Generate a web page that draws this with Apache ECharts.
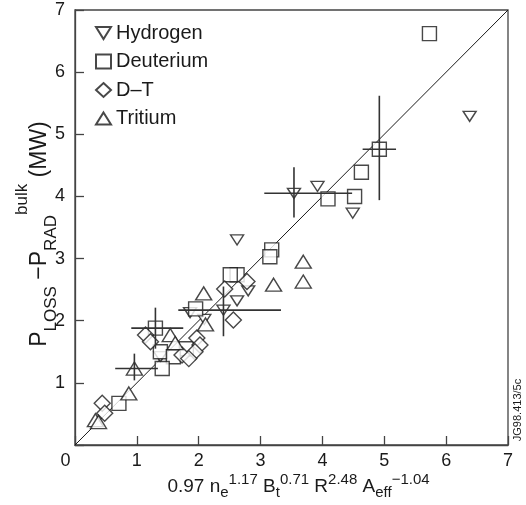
<!DOCTYPE html>
<html><head><meta charset="utf-8">
<script src="https://cdn.jsdelivr.net/npm/echarts@6/dist/echarts.min.js"></script>
<style>html,body{margin:0;padding:0;background:#fff}#c{width:526px;height:505px}</style>
</head><body><div id="c"></div>
<script>
const hydrogen = [[6.38,5.29],[3.92,4.16],[3.54,4.05],[4.49,3.73],[2.62,3.30],[2.80,2.48],[2.62,2.32],[2.40,2.17],[1.86,2.13],[2.09,2.02],[1.38,1.42]];
const deuterium = [[5.73,6.62],[4.92,4.76],[4.63,4.39],[4.52,4.00],[4.09,3.96],[3.18,3.14],[3.15,3.03],[2.62,2.74],[2.51,2.74],[1.95,2.19],[1.30,1.88],[1.80,1.55],[1.38,1.50],[1.59,1.42],[1.41,1.23],[0.71,0.67]];
const dt = [[2.78,2.63],[2.42,2.51],[2.56,2.01],[1.14,1.77],[1.22,1.66],[1.97,1.72],[2.02,1.61],[1.94,1.50],[1.73,1.45],[1.84,1.39],[0.44,0.67],[0.48,0.51]];
const tritium = [[3.69,2.95],[3.69,2.63],[3.21,2.58],[2.08,2.44],[2.11,1.94],[1.54,1.77],[1.62,1.64],[0.96,1.23],[0.87,0.83],[0.33,0.40],[0.38,0.37]];
// [x, y, xLow, xHigh, yLow, yHigh]
const errorBars = [[3.54,4.05,3.06,4.48,3.66,4.47],[2.40,2.17,1.67,3.33,1.75,2.55],[1.30,1.88,0.91,1.75,1.55,2.21],[0.96,1.23,0.65,1.34,1.04,1.47],[4.92,4.76,4.65,5.19,3.94,5.62]];
const unityLine = [[0,0],[7,7]];
const seriesNames = ['Hydrogen','Deuterium','D\u2013T','Tritium'];
const axisMin = 0, axisMax = 7, axisStep = 1;
const note = 'JG98.413/5c';

const FONT = 'Liberation Sans, Arial, Helvetica, sans-serif';
const INK = '#1a1a1a';
const markerStyle = {color:'#fff', borderColor:INK, borderWidth:1.4};
const chart = echarts.init(document.getElementById('c'), null, {renderer:'canvas'});
const down = 'path://M0,0 L20,0 L10,16 Z';
const up = 'path://M10,0 L20,16 L0,16 Z';

chart.setOption({
  animation:false,
  backgroundColor:'#fff',
  textStyle:{fontFamily:FONT, color:INK},
  grid:{left:75, right:18, top:10, bottom:60, show:true, borderColor:'#444', borderWidth:1.3,
    backgroundColor:'transparent', containLabel:false, outerBoundsMode:'none'},
  legend:{
    data:seriesNames, orient:'vertical', left:90, top:18, itemWidth:15, itemHeight:14, itemGap:8.5,
    textStyle:{fontSize:20, color:INK, fontFamily:FONT}, selectedMode:false
  },
  xAxis:{
    type:'value', min:axisMin, max:axisMax, interval:axisStep,
    axisLine:{show:true, lineStyle:{color:'#444', width:1.3}},
    axisTick:{show:true, inside:true, length:9, lineStyle:{color:'#444', width:1.3}},
    splitLine:{show:false},
    axisLabel:{fontSize:18, color:INK, margin:7, fontFamily:FONT,
      formatter:v => v===0 ? '{z|0}' : String(v),
      rich:{z:{fontSize:18, padding:[0,19,0,0], fontFamily:FONT, color:INK}}},
    name:'{m|0.97 n}{sb|e}{sp|1.17}{m| B}{sb|t}{sp|0.71}{m| R}{sp|2.48}{m| A}{sb|eff}{sp|\u22121.04}',
    nameLocation:'middle', nameGap:25, nameMoveOverlap:false,
    nameTextStyle:{padding:[0,0,0,14], rich:{
      m:{fontSize:19, lineHeight:34, fontFamily:FONT, color:INK},
      sb:{fontSize:15, lineHeight:15, verticalAlign:'bottom', padding:[0,0,4,0], fontFamily:FONT, color:INK},
      sp:{fontSize:15, lineHeight:15, verticalAlign:'top', padding:[2,0,0,0], fontFamily:FONT, color:INK}
    }}
  },
  yAxis:{
    type:'value', min:axisMin, max:axisMax, interval:axisStep,
    axisLine:{show:true, lineStyle:{color:'#444', width:1.3}},
    axisTick:{show:true, inside:true, length:9, lineStyle:{color:'#444', width:1.3}},
    splitLine:{show:false},
    axisLabel:{fontSize:18, color:INK, margin:10, fontFamily:FONT, formatter:v => v===0 ? '' : String(v)},
    name:'{m|P}{sb|LOSS}{m| \u2212P}{sb|RAD}{sp|bulk}{m| (MW)}',
    nameLocation:'middle', nameRotate:90, nameGap:9, nameMoveOverlap:false,
    nameTextStyle:{padding:[0,13,0,0], rich:{
      m:{fontSize:23, lineHeight:52, fontFamily:FONT, color:INK},
      sb:{fontSize:17, lineHeight:17, verticalAlign:'bottom', padding:[0,0,6,0], fontFamily:FONT, color:INK},
      sp:{fontSize:17, lineHeight:17, verticalAlign:'top', fontFamily:FONT, color:INK}
    }}
  },
  graphic:[{type:'text', x:518, y:410, rotation:Math.PI/2,
    style:{text:note, font:'11px '+FONT, fill:INK, textAlign:'center', textVerticalAlign:'middle'}}],
  series:[
    {type:'line', data:unityLine, symbol:'none', silent:true, z:1, lineStyle:{color:INK, width:1}},
    {name:seriesNames[0], type:'scatter', data:hydrogen, symbol:down, symbolSize:[13,10], itemStyle:markerStyle, z:3},
    {name:seriesNames[1], type:'scatter', data:deuterium, symbol:'rect', symbolSize:14, itemStyle:markerStyle, z:3},
    {name:seriesNames[2], type:'scatter', data:dt, symbol:'diamond', symbolSize:16, itemStyle:markerStyle, z:3},
    {name:seriesNames[3], type:'scatter', data:tritium, symbol:up, symbolSize:[16,13], itemStyle:markerStyle, z:3},
    {type:'custom', data:errorBars, z:5, silent:true,
      encode:{x:[0,2,3], y:[1,4,5]},
      renderItem:(params, api) => {
        const l = api.coord([api.value(2), api.value(1)]);
        const r = api.coord([api.value(3), api.value(1)]);
        const b = api.coord([api.value(0), api.value(4)]);
        const t = api.coord([api.value(0), api.value(5)]);
        const st = {stroke:'#333', lineWidth:1.6};
        return {type:'group', children:[
          {type:'line', shape:{x1:l[0], y1:l[1], x2:r[0], y2:r[1]}, style:st},
          {type:'line', shape:{x1:b[0], y1:b[1], x2:t[0], y2:t[1]}, style:st}
        ]};
      }}
  ]
});
</script></body></html>
